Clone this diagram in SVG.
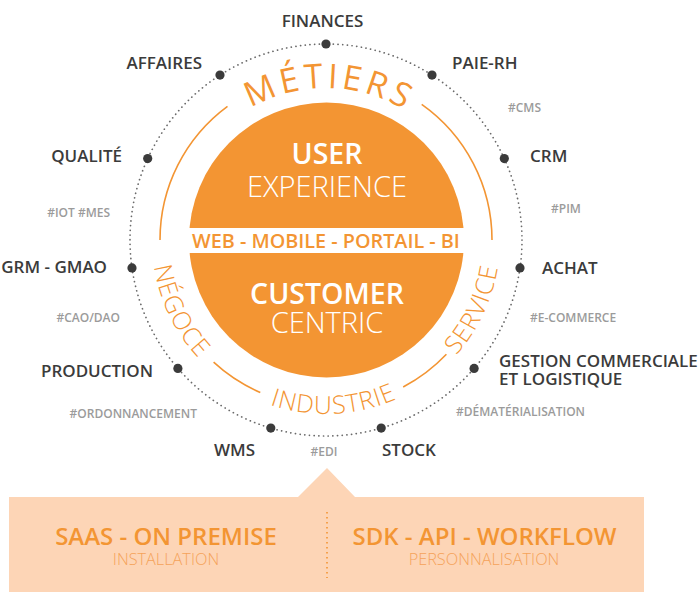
<svg xmlns="http://www.w3.org/2000/svg" width="700" height="598" viewBox="0 0 700 598">
<defs>
<style>
text{font-family:"Open Sans","Noto Sans","Liberation Sans",sans-serif}
.lbl{font-size:17px;font-weight:600;fill:#3b3b3b}
.tag{font-size:12px;font-weight:600;fill:#9b9b9b}
.dot{fill:#3b3b3b}
.ring{fill:none;stroke:#F39533;stroke-width:1.6}
.arcTxt{font-size:25px;font-weight:300;fill:#F39533;letter-spacing:1px}
.ctrB{font-size:28.5px;font-weight:600;fill:#fff}
.ctrL{font-size:29px;font-weight:300;fill:#fff}
.boxB{font-size:24px;font-weight:600;fill:#F39533}
.boxL{font-size:16.3px;font-weight:300;fill:#F5A35A}
</style>
<path id="topArc" d="M174,240 A152,152 0 0 1 478,240"/>
<path id="botArc" d="M152,240 A174,174 0 0 0 500,240"/>
</defs>
<rect width="700" height="598" fill="#fff"/>
<g id="connectors">
<circle cx="326" cy="240" r="196" fill="none" stroke="#6a6a6a" stroke-width="1.7" stroke-dasharray="0.1 4.6" stroke-linecap="round"/>
<path class="ring" d="M160,240 A166,166 0 0 1 227.5,106.3"/>
<path class="ring" d="M421.7,104.4 A166,166 0 0 1 492,240"/>
<path class="ring" d="M446.4,354.3 A166,166 0 0 1 403.2,387"/>
<path class="ring" d="M260.3,392.5 A166,166 0 0 1 213.6,362.2"/>
</g>
<g id="center">
<circle cx="326.5" cy="240" r="137.5" fill="#F39533"/>
<rect x="180" y="228" width="294" height="25" fill="#fff"/>
<text x="326" y="247.5" text-anchor="middle" style="font-size:19.8px;font-weight:600;fill:#F39533">WEB - MOBILE - PORTAIL - BI</text>
<text class="ctrB" x="327" y="164" text-anchor="middle">USER</text>
<text class="ctrL" x="327" y="197" text-anchor="middle">EXPERIENCE</text>
<text class="ctrB" x="327" y="304" text-anchor="middle">CUSTOMER</text>
<text class="ctrL" x="327" y="333" text-anchor="middle">CENTRIC</text>
</g>
<g id="metiers">
<text style="font-size:34px;font-weight:400;fill:#F39533;letter-spacing:4px" text-anchor="middle"><textPath href="#topArc" startOffset="50.7%">MÉTIERS</textPath></text>
</g>
<g id="secteurs">
<text class="arcTxt" text-anchor="middle"><textPath href="#botArc" startOffset="14.4%">NÉGOCE</textPath></text>
<text class="arcTxt" text-anchor="middle"><textPath href="#botArc" startOffset="51.5%">INDUSTRIE</textPath></text>
<text class="arcTxt" text-anchor="middle"><textPath href="#botArc" startOffset="86%">SERVICE</textPath></text>
</g>
<g id="n-finances"><circle class="dot" cx="326" cy="44" r="4.6"/><text class="lbl" x="322.5" y="27" text-anchor="middle">FINANCES</text></g>
<g id="n-paie"><circle class="dot" cx="432" cy="75.1" r="4.6"/><text class="lbl" x="452" y="69">PAIE-RH</text></g>
<g id="n-crm"><circle class="dot" cx="504.3" cy="158.6" r="4.6"/><text class="lbl" x="530" y="162">CRM</text></g>
<g id="n-achat"><circle class="dot" cx="520" cy="267.9" r="4.6"/><text class="lbl" x="542" y="274">ACHAT</text></g>
<g id="n-gestion"><circle class="dot" cx="474.1" cy="368.4" r="4.6"/><text class="lbl" x="499" y="367">GESTION COMMERCIALE</text><text class="lbl" x="499" y="385">ET LOGISTIQUE</text></g>
<g id="n-stock"><circle class="dot" cx="381.2" cy="428.1" r="4.6"/><text class="lbl" x="382" y="456">STOCK</text></g>
<g id="n-wms"><circle class="dot" cx="270.8" cy="428.1" r="4.6"/><text class="lbl" x="255" y="456" text-anchor="end">WMS</text></g>
<g id="n-production"><circle class="dot" cx="177.9" cy="368.4" r="4.6"/><text class="lbl" x="153" y="377" text-anchor="end">PRODUCTION</text></g>
<g id="n-grm"><circle class="dot" cx="132" cy="267.9" r="4.6"/><text class="lbl" x="107" y="273" text-anchor="end">GRM - GMAO</text></g>
<g id="n-qualite"><circle class="dot" cx="147.7" cy="158.6" r="4.6"/><text class="lbl" x="122" y="162" text-anchor="end">QUALITÉ</text></g>
<g id="n-affaires"><circle class="dot" cx="220" cy="75.1" r="4.6"/><text class="lbl" x="202" y="69" text-anchor="end">AFFAIRES</text></g>
<g id="tags">
<text class="tag" x="508" y="112">#CMS</text>
<text class="tag" x="551" y="213">#PIM</text>
<text class="tag" x="530" y="322">#E-COMMERCE</text>
<text class="tag" x="456" y="416">#DÉMATÉRIALISATION</text>
<text class="tag" x="324" y="456" text-anchor="middle">#EDI</text>
<text class="tag" x="197" y="418" text-anchor="end">#ORDONNANCEMENT</text>
<text class="tag" x="120" y="322" text-anchor="end">#CAO/DAO</text>
<text class="tag" x="110" y="217" text-anchor="end">#IOT #MES</text>
</g>
<g id="deploiement">
<path d="M9,497 H298 L327,468 L355,497 H644 V592 H9 Z" fill="#FDD5B6"/>
<line x1="327" y1="512" x2="327" y2="578" stroke="#F39533" stroke-width="1.6" stroke-dasharray="1.6 3.4"/>
<text class="boxB" x="166" y="544.5" text-anchor="middle">SAAS - ON PREMISE</text>
<text class="boxL" x="166" y="565" text-anchor="middle">INSTALLATION</text>
<text class="boxB" x="484.5" y="544.5" text-anchor="middle">SDK - API - WORKFLOW</text>
<text class="boxL" x="484" y="565" text-anchor="middle">PERSONNALISATION</text>
</g>
</svg>
